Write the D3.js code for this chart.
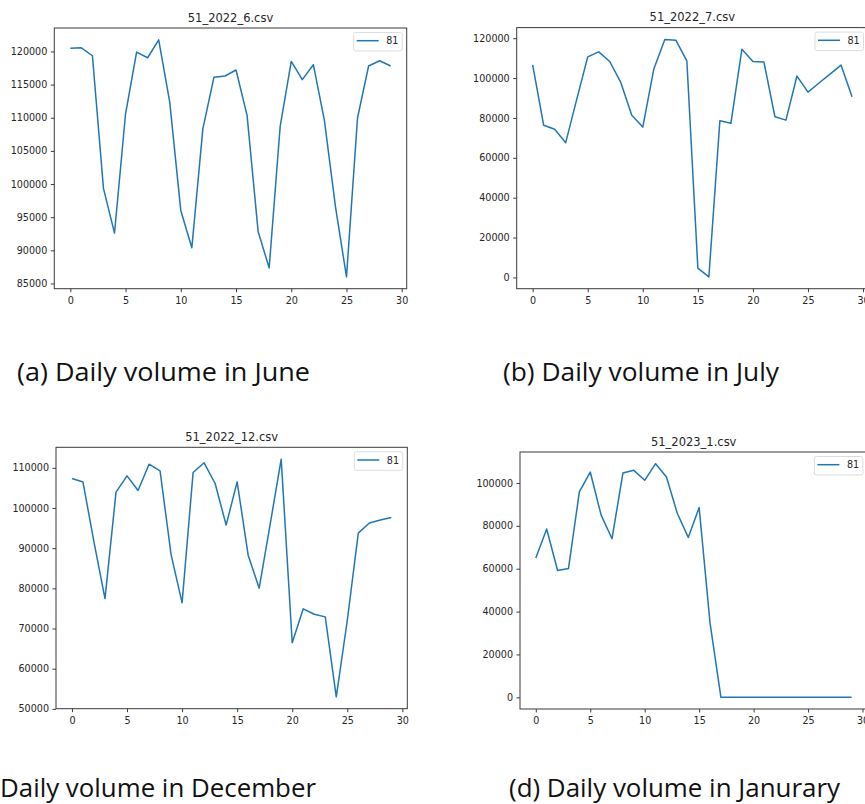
<!DOCTYPE html>
<html><head><meta charset="utf-8">
<script src="https://cdn.jsdelivr.net/npm/d3@7"></script>
<style>
html,body{margin:0;padding:0;background:#fff;overflow:hidden}
svg{display:block}
</style></head><body>
<svg id="chart" width="865" height="804"></svg>
<script>
// ---------- data ----------
const days = d3.range(30);               // day index 0..29
const xTicks = [0, 5, 10, 15, 20, 25, 30];
const legendLabel = "81";

const juneValues = [120500, 120550, 119350, 99350, 92600, 110600, 119900, 119050, 121750, 112350,
                    96000, 90400, 108350, 116100, 116300, 117200, 110350, 92850, 87350, 108750,
                    118500, 115750, 118000, 109600, 96600, 86000, 110000, 117800, 118600, 117800];
const julyValues = [106650, 76300, 74300, 67600, 89300, 110650, 113150, 108300, 97800, 81300,
                    75400, 104500, 119350, 119000, 108650, 4700, 300, 78600, 77300, 114500,
                    108300, 108000, 80600, 78900, 101000, 92950, 97500, 102000, 106500, 90600];
const decValues  = [107350, 106450, 91500, 77450, 103950, 108000, 104350, 110900, 109250, 88400,
                    76400, 108850, 111250, 106100, 95750, 106500, 88250, 80050, 96000, 112150,
                    66450, 74900, 73550, 72900, 53000, 72000, 93750, 96250, 97000, 97650];
const janValues  = [65000, 78500, 59150, 60050, 95800, 105100, 85000, 74000, 104650, 105900,
                    101250, 109000, 102800, 85750, 74600, 88550, 34700, 0, 0, 0,
                    0, 0, 0, 0, 0, 0, 0, 0, 0, 0];

const juneYTicks = [85000, 90000, 95000, 100000, 105000, 110000, 115000, 120000];
const julyYTicks = [0, 20000, 40000, 60000, 80000, 100000, 120000];
const decYTicks  = [50000, 60000, 70000, 80000, 90000, 100000, 110000];
const janYTicks  = [0, 20000, 40000, 60000, 80000, 100000];

const titles   = ["51_2022_6.csv", "51_2022_7.csv", "51_2022_12.csv", "51_2023_1.csv"];
const captions = ["(a) Daily volume in June", "(b) Daily volume in July",
                  "Daily volume in December", "(d) Daily volume in Janurary"];

// ---------- drawing ----------
const svg = d3.select("#chart");
const LINE = "#1f77b4", INK = "#262626";
const tickFont = "'DejaVu Sans', sans-serif";

function drawPanel(opt) {
  const g = svg.append("g");
  const x = d3.scaleLinear().domain([-1.45, 30.45]).range([opt.left, opt.right]);
  const [lo, hi] = d3.extent(opt.values);
  const pad = (hi - lo) * 0.05;
  const y = d3.scaleLinear().domain([lo - pad, hi + pad]).range([opt.bottom, opt.top]);

  // x axis
  const ax = g.append("g").attr("transform", `translate(0,${opt.bottom})`)
    .call(d3.axisBottom(x).tickValues(xTicks).tickSize(3.5).tickPadding(5).tickFormat(d3.format("d")));
  // y axis
  const ay = g.append("g").attr("transform", `translate(${opt.left},0)`)
    .call(d3.axisLeft(y).tickValues(opt.yTicks).tickSize(3.5).tickPadding(3.5).tickFormat(d3.format("d")));
  [ax, ay].forEach(a => {
    a.select(".domain").remove();
    a.selectAll("line").attr("stroke", INK).attr("stroke-width", 0.9);
    a.selectAll("text").attr("fill", INK).style("font-family", tickFont).style("font-size", "9.6px");
  });

  // data line
  const line = d3.line().x((d, i) => x(days[i])).y(d => y(d));
  g.append("path").datum(opt.values)
    .attr("d", line).attr("fill", "none").attr("stroke", LINE)
    .attr("stroke-width", 1.5).attr("stroke-linejoin", "round");

  // frame
  g.append("rect").attr("x", opt.left).attr("y", opt.top)
    .attr("width", opt.right - opt.left).attr("height", opt.bottom - opt.top)
    .attr("fill", "none").attr("stroke", "#3a3a3a").attr("stroke-width", 1);

  // title
  g.append("text").attr("x", (opt.left + opt.right) / 2).attr("y", opt.top - 6.5)
    .attr("text-anchor", "middle").attr("fill", INK)
    .style("font-family", tickFont).style("font-size", "11.5px").text(opt.title);

  // legend
  const lx = opt.right - 4.5 - 48.5, ly = opt.top + 4.5;
  const lg = g.append("g");
  lg.append("rect").attr("x", lx).attr("y", ly).attr("width", 48.5).attr("height", 18.5)
    .attr("rx", 2).attr("fill", "#fff").attr("fill-opacity", 0.85)
    .attr("stroke", "#d9d9d9").attr("stroke-width", 0.9);
  lg.append("line").attr("x1", lx + 3).attr("x2", lx + 25).attr("y1", ly + 8.2).attr("y2", ly + 8.2)
    .attr("stroke", LINE).attr("stroke-width", 1.5);
  lg.append("text").attr("x", lx + 32.5).attr("y", ly + 11.8).attr("fill", INK)
    .style("font-family", tickFont).style("font-size", "9.6px").text(legendLabel);
}

drawPanel({left: 54.3, top: 28,    right: 406.7, bottom: 288.7, values: juneValues, yTicks: juneYTicks, title: titles[0]});
drawPanel({left: 516.7, top: 27.6, right: 868,   bottom: 288.7, values: julyValues, yTicks: julyYTicks, title: titles[1]});
drawPanel({left: 56,   top: 447.3, right: 407.3, bottom: 708.7, values: decValues,  yTicks: decYTicks,  title: titles[2]});
drawPanel({left: 520,  top: 452,   right: 867.4, bottom: 709,   values: janValues,  yTicks: janYTicks,  title: titles[3]});

// captions
const capFont = "'Liberation Sans Narrow', 'Open Sans', sans-serif";
const capPos = [
  {x: 17, y: 381, w: 293},
  {x: 503, y: 381, w: 276},
  {x: 0, y: 797, w: 316},
  {x: 509, y: 797, w: 331}
];
captions.forEach((c, i) => {
  svg.append("text").attr("x", capPos[i].x).attr("y", capPos[i].y)
    .attr("textLength", capPos[i].w).attr("lengthAdjust", "spacingAndGlyphs")
    .attr("fill", "#111").style("font-family", capFont).style("font-size", "25px").text(c);
});
</script>
</body></html>
